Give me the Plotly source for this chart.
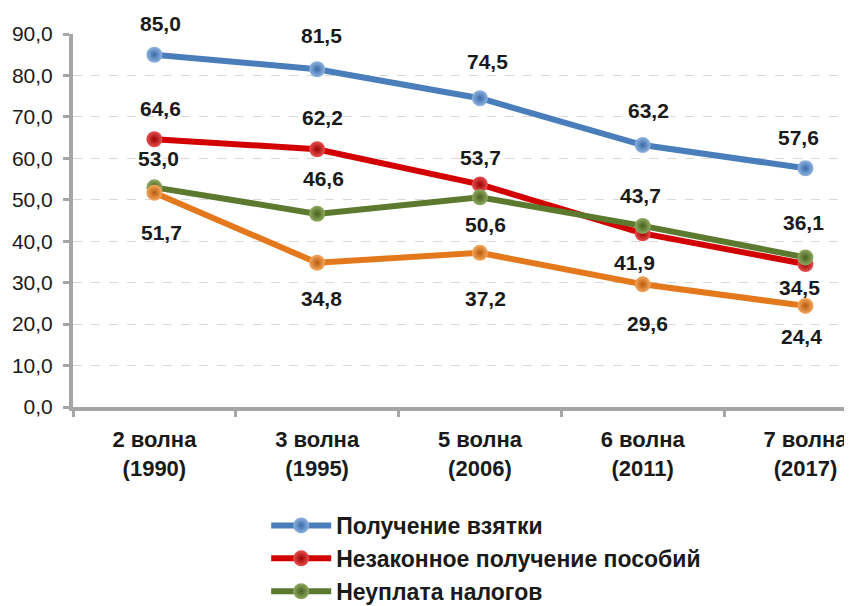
import plotly.graph_objects as go

categories = ["2 волна<br>(1990)", "3 волна<br>(1995)", "5 волна<br>(2006)", "6 волна<br>(2011)", "7 волна<br>(2017)"]

series_names = [
    "Получение взятки",
    "Незаконное получение пособий",
    "Неуплата налогов",
    "Безбилетный проезд",
]
bribe = [85.0, 81.5, 74.5, 63.2, 57.6]
benefits = [64.6, 62.2, 53.7, 41.9, 34.5]
taxes = [53.0, 46.6, 50.6, 43.7, 36.1]
fare = [51.7, 34.8, 37.2, 29.6, 24.4]
y_ticks = [0, 10, 20, 30, 40, 50, 60, 70, 80, 90]

series_values = [bribe, benefits, taxes, fare]
line_colors = ["#4A7EBB", "#D20000", "#5B7A2F", "#E3781C"]
marker_centers = ["#8FB3E0", "#E85050", "#8FAA60", "#F5A860"]
marker_edges = ["#3A6AA8", "#9A0000", "#46601F", "#B85A0A"]
show_in_legend = [True, True, True, False]

# label offsets in pixels (dx, dy) for each point, per series
label_offsets = [
    [(6, 31), (4, 34), (8, 37), (6, 35), (-7, 31)],
    [(6, 31), (5, 32), (1, 27), (-8, -29), (-6, -23)],
    [(4, 29), (6, 35), (6, -27), (-2, 30), (-2, 35)],
    [(7, -40), (4, -36), (6, -46), (5, -39), (-4, -31)],
]

FONT = "Liberation Sans, Arial, sans-serif"

fig = go.Figure()
for i, (name, vals) in enumerate(zip(series_names, series_values)):
    fig.add_trace(go.Scatter(
        x=categories, y=vals, name=name, mode="lines+markers",
        legendgroup=f"g{i}", showlegend=show_in_legend[i],
        line=dict(color=line_colors[i], width=6),
        marker=dict(size=16, color=marker_centers[i], line=dict(width=0),
                    gradient=dict(type="radial", color=marker_edges[i])),
    ))

annotations = []
for i, vals in enumerate(series_values):
    for j, v in enumerate(vals):
        dx, dy = label_offsets[i][j]
        annotations.append(dict(
            x=categories[j], y=v, xref="x", yref="y",
            text=f"{v:.1f}".replace(".", ","), showarrow=False,
            xshift=dx, yshift=dy,
            font=dict(family=FONT, size=21, color="#1a1a1a", weight="bold"),
        ))

fig.update_layout(
    width=844, height=598,
    margin=dict(l=65, r=0, t=26, b=199, autoexpand=False),
    paper_bgcolor="white", plot_bgcolor="white",
    separators=", ",
    font=dict(family=FONT, color="#1a1a1a"),
    annotations=annotations,
    legend=dict(
        x=0.248, y=-0.26, xanchor="left", yanchor="top",
        orientation="v", traceorder="normal",
        font=dict(family=FONT, size=23, color="#1a1a1a", weight="bold"),
        itemwidth=60, tracegroupgap=6, bgcolor="rgba(0,0,0,0)",
    ),
    xaxis=dict(
        type="category", range=[-0.5, 4.286],
        showline=True, linecolor="#A6A6A6", linewidth=4,
        ticks="outside", tickson="boundaries", ticklen=6, tickwidth=3, tickcolor="#A6A6A6",
        showgrid=False,
        tickfont=dict(family=FONT, size=22, color="#1a1a1a", weight="bold"),
        ticklabelstandoff=10,
    ),
    yaxis=dict(
        range=[0, 90], tickvals=y_ticks, tickformat=".1f",
        showline=True, linecolor="#A6A6A6", linewidth=4,
        ticks="outside", ticklen=6, tickwidth=3, tickcolor="#A6A6A6",
        showgrid=True, gridcolor="#D9D9D9", gridwidth=1, griddash="dash",
        zeroline=False,
        tickfont=dict(family=FONT, size=21, color="#1a1a1a"),
        ticklabelstandoff=6,
    ),
)

fig.write_html("out.html")
